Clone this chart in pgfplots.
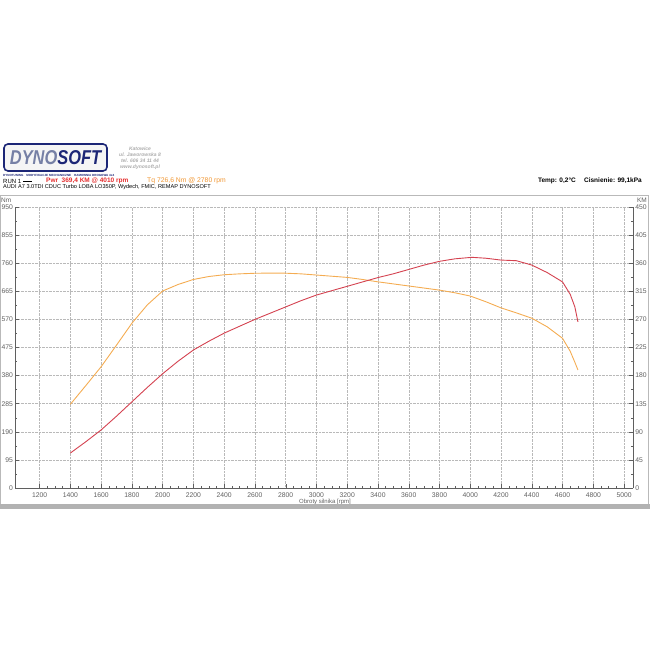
\documentclass[border=0pt]{standalone}
\usepackage{pgfplots}
\pgfplotsset{compat=1.18}
\usepackage{fontspec}
\setmainfont{Liberation Sans}
\definecolor{pwr}{RGB}{212,66,80}
\definecolor{tq}{RGB}{244,172,82}
\definecolor{pwrtxt}{RGB}{228,45,45}
\definecolor{tqtxt}{RGB}{240,150,50}
\definecolor{navy}{RGB}{28,38,118}
\definecolor{logogray}{RGB}{118,128,165}
\definecolor{axgray}{RGB}{95,95,95}
\begin{document}
\begin{tikzpicture}
\path[use as bounding box] (0pt,0pt) rectangle (650pt,650pt);
\begin{scope}[x=1pt,y=1pt]
% panel frame
\draw[gray!55, line width=0.8pt] (0.5,146) -- (0.5,455) -- (648,455) -- (648,146);
% logo
\draw[navy, line width=1.6pt, rounded corners=4pt, fill=gray!8] (4,479) rectangle (107,506);
\node[font=\fontsize{20}{20}\selectfont\bfseries\itshape, xscale=0.82, inner sep=0pt] at (55.5,492.5)
  {\textcolor{logogray}{DYNO}\textcolor{navy}{SOFT}};
\node[font=\fontsize{3}{3}\selectfont\bfseries, text=navy, anchor=west, inner sep=0pt] at (3,475)
  {DYNOTUNING\quad MODYFIKACJE MECHANICZNE\quad HAMOWNIA DROGOWA 4x4};
\node[font=\fontsize{5}{6}\selectfont\itshape\bfseries, text=gray!65, align=center, inner sep=0pt] at (140,492)
  {Katowice\\ul. Jaworowska 8\\tel. 606 34 11 44\\www.dynosoft.pl};
% header texts
\node[font=\fontsize{6}{6}\selectfont, anchor=west, inner sep=0pt] at (3,469) {RUN 1};
\draw[black, line width=0.6pt] (23,469) -- (32,469);
\node[font=\fontsize{6.5}{6.5}\selectfont\bfseries, text=pwrtxt, anchor=west, inner sep=0pt] at (46,469) {Pwr\ \ 369,4 KM @ 4010 rpm};
\node[font=\fontsize{6.8}{6.8}\selectfont, text=tqtxt, anchor=west, inner sep=0pt] at (147,469) {Tq 726,6 Nm @ 2780 rpm};
\node[font=\fontsize{5.6}{6}\selectfont, anchor=west, inner sep=0pt] at (3,462.5) {AUDI A7 3.0TDI CDUC Turbo LOBA LO350P, Wydech, FMIC, REMAP DYNOSOFT};
\node[font=\fontsize{6.5}{6.5}\selectfont\bfseries, anchor=east, inner sep=0pt] at (642,469) {Temp: 0,2\textdegree C\quad\ Cisnienie: 99,1kPa};
% axis unit labels
\node[font=\fontsize{6.5}{6.5}\selectfont, text=axgray, anchor=west, inner sep=0pt] at (1,450) {Nm};
\node[font=\fontsize{6.5}{6.5}\selectfont, text=axgray, anchor=east, inner sep=0pt] at (647,450) {KM};
\end{scope}

\begin{axis}[
  at={(15pt,162pt)}, anchor=south west, scale only axis,
  width=618.3pt, height=281pt,
  xmin=1040, xmax=5060, ymin=0, ymax=950,
  axis x line*=bottom, axis y line*=left,
  xtick={1200,1400,...,5000}, ytick={0,95,...,950},
  minor x tick num=3, minor y tick num=1,
  grid=major, major grid style={gray!55, densely dotted, line width=0.45pt},
  axis line style={axgray, line width=0.7pt, -},
  tick style={axgray, line width=0.4pt},
  tick align=inside,
  major tick length=4pt, minor tick length=2pt,
  scaled ticks=false,
  xticklabel={\pgfmathprintnumber[set thousands separator={}, assume math mode=true]{\tick}},
  yticklabel={\pgfmathprintnumber[assume math mode=true]{\tick}},
  ticklabel style={font=\fontsize{6.8}{7}\selectfont, text=axgray},
  yticklabel style={xshift=1.5pt},
  xticklabel style={yshift=-1pt},
]
\addplot[tq, line width=0.9pt] coordinates {
(1400,283) (1500,346) (1600,410) (1700,483) (1800,557) (1900,619) (2000,666)
(2100,688) (2200,705) (2300,715) (2400,721) (2500,724) (2600,726) (2700,726.5)
(2780,726.6) (2900,724) (3000,720) (3100,716) (3200,712) (3300,705) (3400,697)
(3500,690) (3600,683) (3700,676) (3800,669) (3900,660) (4000,649) (4100,630)
(4200,609) (4300,592) (4400,574) (4500,545) (4600,506) (4650,462) (4680,425) (4700,399)
};
\end{axis}

\begin{axis}[
  at={(15pt,162pt)}, anchor=south west, scale only axis,
  width=618.3pt, height=281pt,
  xmin=1040, xmax=5060, ymin=0, ymax=450,
  axis x line=none, axis y line*=right,
  ytick={0,45,...,450}, minor y tick num=1,
  axis line style={axgray, line width=0.7pt, -},
  tick style={axgray, line width=0.4pt},
  tick align=inside,
  major tick length=4pt, minor tick length=2pt,
  yticklabel={\pgfmathprintnumber[assume math mode=true]{\tick}},
  ticklabel style={font=\fontsize{6.8}{7}\selectfont, text=axgray},
  yticklabel style={xshift=-1.5pt},
]
\addplot[pwr, line width=0.9pt] coordinates {
(1400,56) (1500,74) (1600,93) (1700,115) (1800,138) (1900,161) (2000,183)
(2100,203) (2200,221) (2300,235) (2400,248) (2500,259) (2600,270) (2700,280)
(2800,290) (2900,300) (3000,309) (3100,316) (3200,323) (3300,330) (3400,337)
(3500,343) (3600,350) (3700,357) (3800,363) (3900,367) (4010,369.4) (4100,368)
(4200,365) (4300,364) (4400,357) (4500,345) (4600,330) (4650,310) (4680,290) (4700,266)
};
\end{axis}

\begin{scope}[x=1pt,y=1pt]
\node[font=\fontsize{6}{6}\selectfont, text=axgray, inner sep=0pt] at (325,148) {Obroty silnika [rpm]};
\fill[gray!60] (0,141) rectangle (650,145.5);
\end{scope}
\end{tikzpicture}
\end{document}
